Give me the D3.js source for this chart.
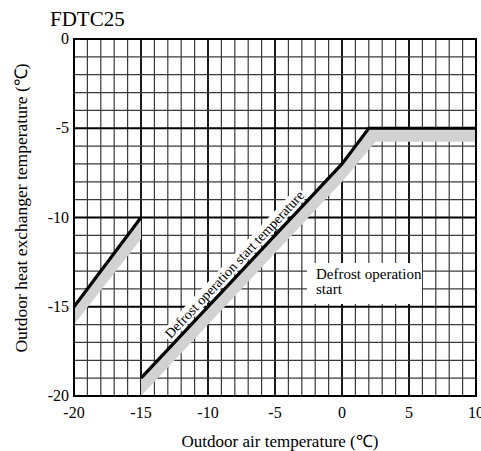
<!DOCTYPE html>
<html>
<head>
<meta charset="utf-8">
<script src="https://cdn.jsdelivr.net/npm/d3@7"></script>
<style>
  body { margin: 0; background: #fff; }
</style>
</head>
<body>
<svg id="chart" width="481" height="451" font-family="'Liberation Serif', 'Times New Roman', Times, serif"></svg>
<script>
// chart values
const title = 'FDTC25';
const xTicks = [-20, -15, -10, -5, 0, 5, 10];
const yTicks = [0, -5, -10, -15, -20];
// defrost start lines (outdoor air temp, heat exchanger temp)
const lineLow = [[-20, -15], [-15, -10]];
const lineMain = [[-15, -19], [0, -7], [2, -5], [10, -5]];
// lower edge of the gray tolerance band
const bandLow = [[-20, -16], [-15, -11.2]];
const bandMain = [[-15, -20], [0, -8], [2.5, -5.75], [10, -5.75]];

const svg = d3.select('#chart');
const x = d3.scaleLinear().domain([-20, 10]).range([74, 476]);
const y = d3.scaleLinear().domain([-20, 0]).range([396, 39]);

const grid = svg.append('g');
// grid every 1 unit, heavier every 5
grid.selectAll('.vx').data(d3.range(-20, 11)).enter()
  .append('line')
  .attr('x1', d => x(d)).attr('x2', d => x(d))
  .attr('y1', y(0)).attr('y2', y(-20))
  .attr('stroke', d => d % 5 === 0 ? '#000' : '#3a3a3a')
  .attr('stroke-width', d => d % 5 === 0 ? 1.8 : 1.2);
grid.selectAll('.hy').data(d3.range(-20, 1)).enter()
  .append('line')
  .attr('x1', x(-20)).attr('x2', x(10))
  .attr('y1', d => y(d)).attr('y2', d => y(d))
  .attr('stroke', d => d % 5 === 0 ? '#000' : '#3a3a3a')
  .attr('stroke-width', d => d % 5 === 0 ? 1.8 : 1.2);

// gray bands
const bandPoly = (top, low) => top.concat(low.slice().reverse());
const area = d3.line().x(d => x(d[0])).y(d => y(d[1]));
svg.append('path').attr('d', area(bandPoly(lineLow, bandLow)) + 'Z')
  .attr('fill', '#d2d2d2');
svg.append('path').attr('d', area(bandPoly(lineMain, bandMain)) + 'Z')
  .attr('fill', '#d2d2d2');

// white box under the region label
svg.append('rect')
  .attr('x', 307).attr('y', 263).attr('width', 115).attr('height', 41)
  .attr('fill', '#fff');
svg.append('text').attr('x', 316).attr('y', 279).attr('font-size', 15)
  .text('Defrost operation');
svg.append('text').attr('x', 316).attr('y', 294).attr('font-size', 15)
  .text('start');

// black lines
[lineLow, lineMain].forEach(pts => {
  svg.append('path').attr('d', area(pts))
    .attr('fill', 'none').attr('stroke', '#000')
    .attr('stroke-width', 3.2).attr('stroke-linejoin', 'miter');
});

// rotated label along the main line
const p0 = lineMain[0], p1 = lineMain[1];
const ang = Math.atan2(y(p1[1]) - y(p0[1]), x(p1[0]) - x(p0[0])) * 180 / Math.PI;
const mx = -7.5;
const my = p0[1] + (p1[1] - p0[1]) * (mx - p0[0]) / (p1[0] - p0[0]);
const lbl = svg.append('g')
  .attr('transform', `translate(${x(mx)},${y(my)}) rotate(${ang}) translate(0,-5)`);
const lt = lbl.append('text').attr('text-anchor', 'middle').attr('font-size', 14)
  .text('Defrost operation start temperature');
const bb = lt.node().getBBox();
lbl.insert('rect', 'text')
  .attr('x', bb.x - 2).attr('y', bb.y).attr('width', bb.width + 4).attr('height', bb.height - 1)
  .attr('fill', '#fff');

// border
svg.append('rect')
  .attr('x', x(-20)).attr('y', y(0))
  .attr('width', x(10) - x(-20)).attr('height', y(-20) - y(0))
  .attr('fill', 'none').attr('stroke', '#000').attr('stroke-width', 2);

// tick labels
svg.selectAll('.xt').data(xTicks).enter().append('text')
  .attr('x', d => x(d)).attr('y', 418)
  .attr('text-anchor', 'middle').attr('font-size', 16)
  .text(d => d);
svg.selectAll('.yt').data(yTicks).enter().append('text')
  .attr('x', 69).attr('y', d => y(d) + 5)
  .attr('text-anchor', 'end').attr('font-size', 16)
  .text(d => d);

// titles
svg.append('text').attr('x', 50).attr('y', 26).attr('font-size', 21).text(title);
svg.append('text').attr('x', 280).attr('y', 447)
  .attr('text-anchor', 'middle').attr('font-size', 17)
  .text('Outdoor air temperature (℃)');
svg.append('text')
  .attr('transform', 'translate(27,208) rotate(-90)')
  .attr('text-anchor', 'middle').attr('font-size', 17.5)
  .text('Outdoor heat exchanger temperature (℃)');
</script>
</body>
</html>
